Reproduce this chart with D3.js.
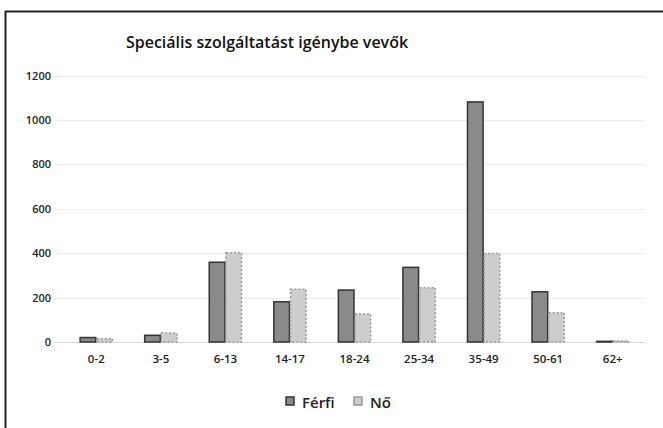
<!DOCTYPE html>
<html><head><meta charset="utf-8">
<script src="https://cdn.jsdelivr.net/npm/d3@7"></script>
<style>body{margin:0;background:#fff}svg{display:block}</style>
</head><body>
<script>
const categories = ["0-2","3-5","6-13","14-17","18-24","25-34","35-49","50-61","62+"];
const ferfi = [20, 30, 359, 181, 234, 336, 1081, 226, 3];
const no = [15, 40, 402, 237, 126, 244, 399, 132, 5];
const seriesNames = ["Férfi","Nő"];
const yTicks = [0,200,400,600,800,1000,1200];
const title = "Speciális szolgáltatást igénybe vevők";

const W = 663, H = 428;
const svg = d3.select("body").append("svg").attr("width", W).attr("height", H);

// frame lines (top and left)
svg.append("line").attr("x1",5).attr("x2",663).attr("y1",11.5).attr("y2",11.5).attr("stroke","#222").attr("stroke-width",2);
svg.append("line").attr("x1",5.5).attr("x2",5.5).attr("y1",11).attr("y2",428).attr("stroke","#222").attr("stroke-width",2);

const x0 = d3.scaleBand().domain(categories).range([64, 645]).paddingInner(0.5).paddingOuter(0.25);
const x1 = d3.scaleBand().domain(seriesNames).range([0, x0.bandwidth()]).paddingInner(0.06);
const y = d3.scaleLinear().domain([0, 1200]).range([342, 75.5]);

// gridlines
svg.append("g").selectAll("line").data(yTicks).join("line")
  .attr("x1", 55).attr("x2", 645)
  .attr("y1", d => Math.round(y(d)) + 0.5).attr("y2", d => Math.round(y(d)) + 0.5)
  .attr("stroke", d => d === 0 ? "#d8d8d8" : "#ececec").attr("stroke-width", 1);

// y axis labels
const yAxis = d3.axisLeft(y).tickValues(yTicks).tickFormat(d3.format("d")).tickSize(0).tickPadding(0);
const gy = svg.append("g").attr("transform", "translate(51,0)").call(yAxis);
gy.select(".domain").remove();
gy.selectAll("text").attr("font-family","Open Sans, sans-serif").attr("font-size", 11).attr("font-weight", 600).attr("fill","#222");

// x axis labels
const xAxis = d3.axisBottom(x0).tickSize(0).tickPadding(0);
const gx = svg.append("g").attr("transform", "translate(0,355)").call(xAxis);
gx.select(".domain").remove();
gx.selectAll("text").attr("font-family","Open Sans, sans-serif").attr("font-size", 11.5).attr("font-weight", 600).attr("fill","#222");

const fills = {"Férfi":"#8a8a8a","Nő":"#cdcdcd"};
const strokes = {"Férfi":"#333","Nő":"#999"};
const rows = categories.map((c,i) => ({c, vals:[{s:"Férfi", v:ferfi[i]},{s:"Nő", v:no[i]}]}));

const groups = svg.append("g").selectAll("g").data(rows).join("g")
  .attr("transform", d => `translate(${x0(d.c)},0)`);
groups.selectAll("rect").data(d => d.vals).join("rect")
  .attr("x", d => x1(d.s)).attr("width", x1.bandwidth())
  .attr("y", d => y(d.v)).attr("height", d => Math.max(0, y(0) - y(d.v)))
  .attr("fill", d => fills[d.s]).attr("stroke", d => strokes[d.s]).attr("stroke-width", 1.5)
  .attr("stroke-dasharray", d => d.s === "Nő" ? "2,2" : null);

// title
svg.append("text").attr("x", 267).attr("y", 48).attr("text-anchor","middle")
  .attr("font-family","Open Sans, sans-serif").attr("font-size", 16).attr("font-weight", 600).attr("fill","#111")
  .text(title);

// legend
const leg = svg.append("g");
const legItems = [{s:"Férfi", x:286, tx:302},{s:"Nő", x:354, tx:370}];
leg.selectAll("rect").data(legItems).join("rect")
  .attr("x", d => d.x).attr("y", 397).attr("width", 8).attr("height", 8)
  .attr("fill", d => fills[d.s]).attr("stroke", d => strokes[d.s]).attr("stroke-width", 1.5);
leg.selectAll("text").data(legItems).join("text")
  .attr("x", d => d.tx).attr("y", 407.5)
  .attr("font-family","Open Sans, sans-serif").attr("font-size", 15).attr("font-weight", 600).attr("fill","#222")
  .text(d => d.s);
</script>
</body></html>
